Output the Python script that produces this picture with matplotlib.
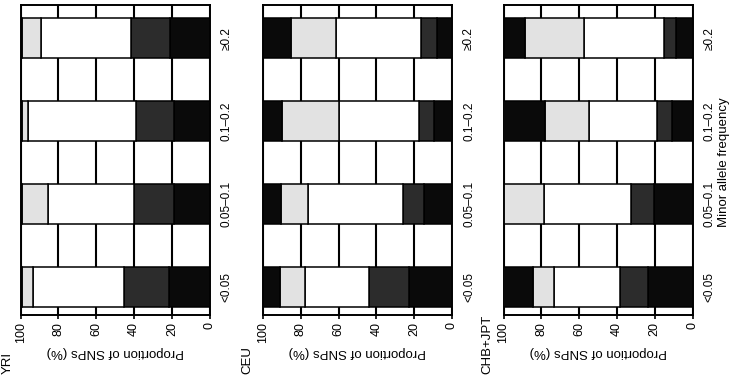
import matplotlib
matplotlib.use('Agg')
import matplotlib.pyplot as plt
import numpy as np

plt.rcParams['font.family'] = ['Liberation Sans', 'DejaVu Sans']

# MAF bins (bottom to top in the rotated figure)
categories = ['<0.05', '0.05\u20130.1', '0.1\u20130.2', '\u22650.2']
x_ticks = [0, 20, 40, 60, 80, 100]
populations = ['YRI', 'CEU', 'CHB+JPT']

# stacked segments (%) from 0 upwards: black, dark, white, light, black
yri_seg1 = [21.5, 19.0, 19.0, 21.0]
yri_seg2 = [24.0, 21.0, 20.0, 20.5]
yri_seg3 = [48.0, 45.5, 57.0, 48.0]
yri_seg4 = [6.0, 14.0, 3.5, 10.0]
yri_seg5 = [0.5, 0.5, 0.5, 0.5]

ceu_seg1 = [23.0, 15.0, 9.5, 8.0]
ceu_seg2 = [21.0, 11.0, 8.0, 8.5]
ceu_seg3 = [34.0, 50.0, 42.5, 45.0]
ceu_seg4 = [13.0, 14.5, 30.0, 23.5]
ceu_seg5 = [9.0, 9.5, 10.0, 15.0]

chb_seg1 = [23.5, 20.5, 11.0, 8.5]
chb_seg2 = [15.0, 12.0, 8.0, 6.5]
chb_seg3 = [35.0, 46.0, 36.0, 42.5]
chb_seg4 = [11.0, 21.0, 23.0, 31.0]
chb_seg5 = [15.5, 0.5, 22.0, 11.5]

panel_data = [
    [yri_seg1, yri_seg2, yri_seg3, yri_seg4, yri_seg5],
    [ceu_seg1, ceu_seg2, ceu_seg3, ceu_seg4, ceu_seg5],
    [chb_seg1, chb_seg2, chb_seg3, chb_seg4, chb_seg5],
]
seg_colors = ['#0a0a0a', '#2c2c2c', '#ffffff', '#e2e2e2', '#0a0a0a']

W, H = 733, 375
fig = plt.figure(figsize=(W / 100, H / 100), dpi=100)
fig.patch.set_facecolor('white')

lefts = [20.7, 263.0, 503.5]
title_x = [7.5, 247.5, 487.5]
ax_w, ax_bottom, ax_h = 189.0, 60.0, 310.0

for i, (name, segs) in enumerate(zip(populations, panel_data)):
    ax = fig.add_axes([lefts[i] / W, ax_bottom / H, ax_w / W, ax_h / H])
    ypos = np.arange(len(categories))
    left = np.zeros(len(categories))
    for vals, col in zip(segs, seg_colors):
        vals = np.array(vals, dtype=float)
        ax.barh(ypos, vals, left=left, height=0.48, color=col,
                edgecolor='black', linewidth=1.1, zorder=3)
        left += vals
    ax.set_xlim(100, 0)
    ax.set_ylim(-0.34, 3.40)
    ax.set_xticks(x_ticks)
    ax.set_xticklabels([str(t) for t in x_ticks], rotation=90, fontsize=9)
    ax.tick_params(axis='x', direction='out', length=3, width=1.2, pad=2)
    ax.yaxis.tick_right()
    ax.set_yticks(ypos)
    ax.set_yticklabels(categories, rotation=90, fontsize=8.5, va='center')
    ax.tick_params(axis='y', length=0, pad=8)
    ax.grid(axis='x', color='black', linewidth=1.5)
    ax.grid(axis='y', visible=False)
    ax.set_axisbelow(True)
    for s in ax.spines.values():
        s.set_linewidth(1.4)
    ax.text(0.5, -0.12, 'Proportion of SNPs (%)', transform=ax.transAxes,
            rotation=180, ha='center', va='center', fontsize=9.5)
    fig.text(title_x[i] / W, 0.004, name, rotation=90, ha='center',
             va='bottom', fontsize=9.5)

fig.text(724 / W, 1 - 162 / H, 'Minor allele frequency', rotation=90,
         ha='center', va='center', fontsize=9.5)

fig.savefig('out.png', dpi=100, facecolor='white')
